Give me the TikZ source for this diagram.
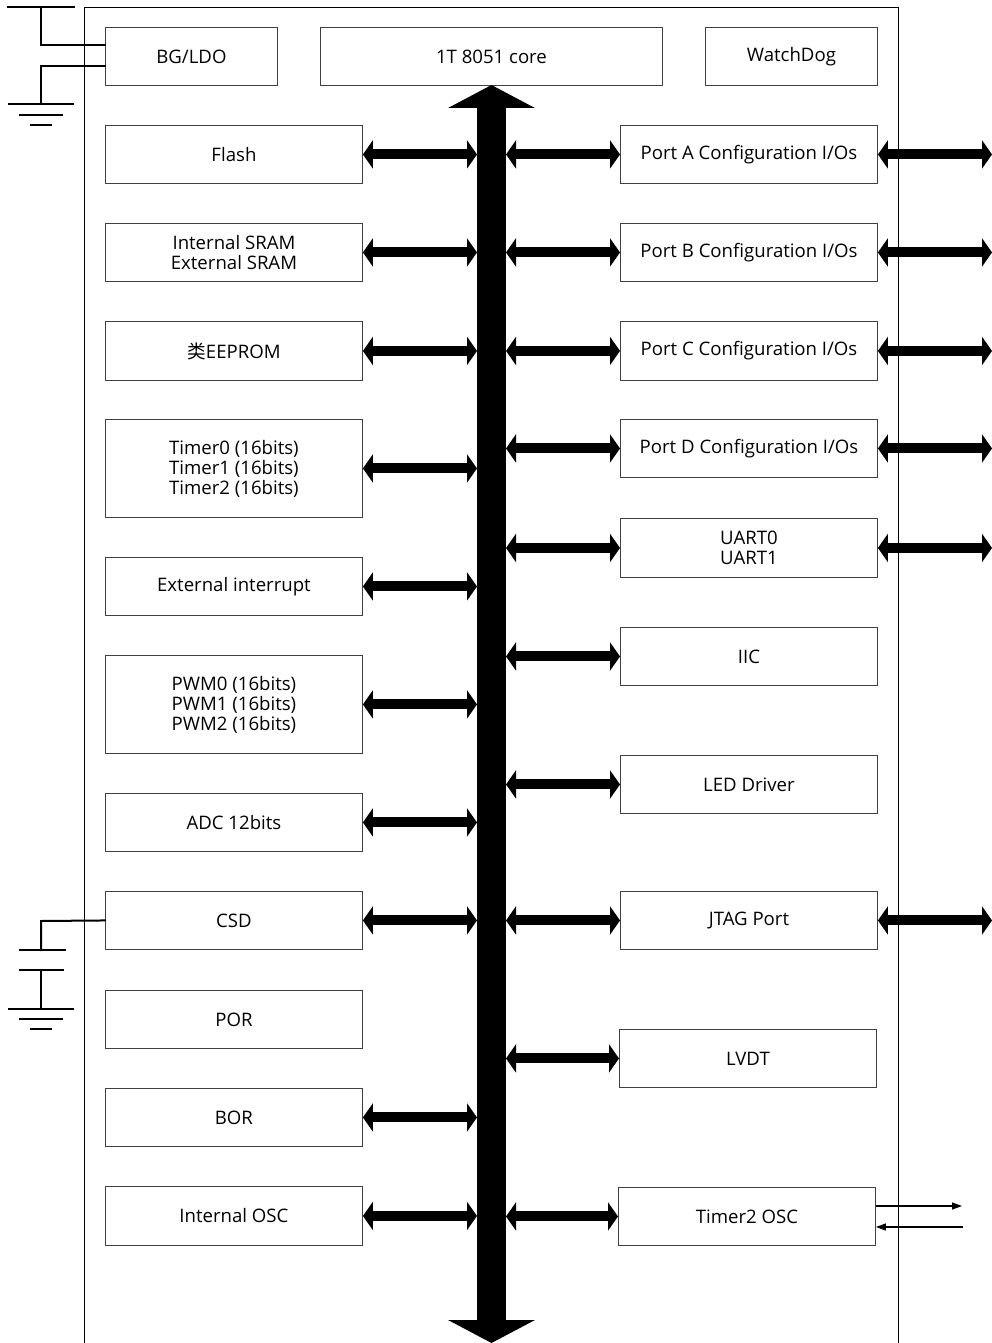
\documentclass[tikz,border=0pt]{standalone}
\usepackage{fontspec}
\setmainfont{Open Sans}
\newfontfamily\cjk{Noto Sans CJK SC}
\usetikzlibrary{arrows.meta}
\begin{document}
\begin{tikzpicture}[x=1pt,y=-1pt,
  blk/.style={draw=black!75,line width=0.9pt,anchor=north west,align=center,
    font=\fontsize{18.6}{20}\selectfont,inner sep=0pt},
  lbox/.style={blk,minimum width=257pt},
  wire/.style={line width=2pt,line cap=rect},
  gnd/.style={line width=2pt},
  busarr/.style={line width=10pt,{Triangle[width=28pt,length=10pt]}-{Triangle[width=28pt,length=10pt]}},
  thinarr/.style={line width=1.3pt,-{Triangle[width=7pt,length=10pt]}}]
\useasboundingbox (0,0) rectangle (992,1343);
% outer frame
\draw[line width=0.9pt] (84,1345) -- (84,7) -- (898,7) -- (898,1345);
% top row
\node[blk,minimum width=172pt,minimum height=58pt] (bg) at (105,27) {BG/LDO};
\node[blk,minimum width=342pt,minimum height=58pt] (core) at (320,27) {1T 8051 core};
\node[blk,minimum width=172pt,minimum height=58pt] (wd) at (705,27) {WatchDog};
% left column
\node[lbox,minimum height=58pt] (flash) at (105,125) {Flash};
\node[lbox,minimum height=58pt] (sram) at (105,223) {Internal SRAM\\External SRAM};
\node[lbox,minimum height=59pt] (eep) at (105,321) {{\cjk 类}EEPROM};
\node[lbox,minimum height=98pt] (tim) at (105,419) {Timer0 (16bits)\\Timer1 (16bits)\\Timer2 (16bits)};
\node[lbox,minimum height=58pt] (extint) at (105,557) {External interrupt};
\node[lbox,minimum height=98pt] (pwm) at (105,655) {PWM0 (16bits)\\PWM1 (16bits)\\PWM2 (16bits)};
\node[lbox,minimum height=58pt] (adc) at (105,793) {ADC 12bits};
\node[lbox,minimum height=58pt] (csd) at (105,891) {CSD};
\node[lbox,minimum height=58pt] (por) at (105,990) {POR};
\node[lbox,minimum height=58pt] (bor) at (105,1088) {BOR};
\node[lbox,minimum height=59pt] (osc) at (105,1186) {Internal OSC};
% right column
\node[lbox,minimum height=58pt] (pa) at (620,125) {Port A Configuration I/Os};
\node[lbox,minimum height=58pt] (pb) at (620,223) {Port B Configuration I/Os};
\node[lbox,minimum height=59pt] (pc) at (620,321) {Port C Configuration I/Os};
\node[lbox,minimum height=58pt] (pd) at (620,419) {Port D Configuration I/Os};
\node[lbox,minimum height=59pt] (uart) at (620,518) {UART0\\UART1};
\node[lbox,minimum height=58pt] (iic) at (620,627) {IIC};
\node[lbox,minimum height=58pt] (led) at (620,755) {LED Driver};
\node[lbox,minimum height=58pt] (jtag) at (620,891) {JTAG Port};
\node[lbox,minimum height=58pt] (lvdt) at (619,1029) {LVDT};
\node[lbox,minimum height=58pt] (t2osc) at (618,1187) {Timer2 OSC};
% bus
\coordinate (busT) at (491.5,85);
\coordinate (busB) at (491.5,1343);
\coordinate (busL) at (477,0);
\coordinate (busR) at (506,0);
\coordinate (edgeR) at (992,0);
\draw[line width=29pt,{Triangle[width=86pt,length=23pt]}-{Triangle[width=86pt,length=23pt]}] (busT) -- (busB);
% left arrows
\foreach \n in {flash,sram,eep,tim,extint,pwm,adc,csd,bor,osc}
  \draw[busarr] (\n.east) -- (\n.east -| busL);
% right arrows
\foreach \n in {pa,pb,pc,pd,uart,iic,led,jtag,lvdt,t2osc}
  \draw[busarr] (\n.west -| busR) -- (\n.west);
\foreach \n in {pa,pb,pc,pd,uart,jtag}
  \draw[busarr] (\n.east) -- (\n.east -| edgeR);
% Timer2 OSC pins
\coordinate (pinA) at (962,1206);
\coordinate (pinB) at (963,1227);
\draw[thinarr] (t2osc.east |- pinA) -- (pinA);
\draw[thinarr] (pinB) -- (t2osc.east |- pinB);
% BG/LDO supply and ground
\coordinate (vt) at (41,7);
\coordinate (g1) at (41,104);
\draw[wire] (8,7) -- (74,7);
\draw[wire] (vt) -- (41,45) -- (bg.west |- 0,45);
\draw[wire] (bg.west |- 0,66) -- (41,66) -- (g1);
\draw[gnd] (8,104) -- (74,104);
\draw[gnd] (19,115) -- (63,115);
\draw[gnd] (30,125) -- (52,125);
% CSD capacitor and ground
\draw[wire] (csd.west) -- (41,921) -- (41,950);
\draw[gnd] (19,950) -- (66,950);
\draw[gnd] (19,970) -- (64,970);
\draw[wire] (41,970) -- (41,1009);
\draw[gnd] (8,1009) -- (74,1009);
\draw[gnd] (19,1019) -- (63,1019);
\draw[gnd] (30,1029) -- (52,1029);
\end{tikzpicture}
\end{document}
